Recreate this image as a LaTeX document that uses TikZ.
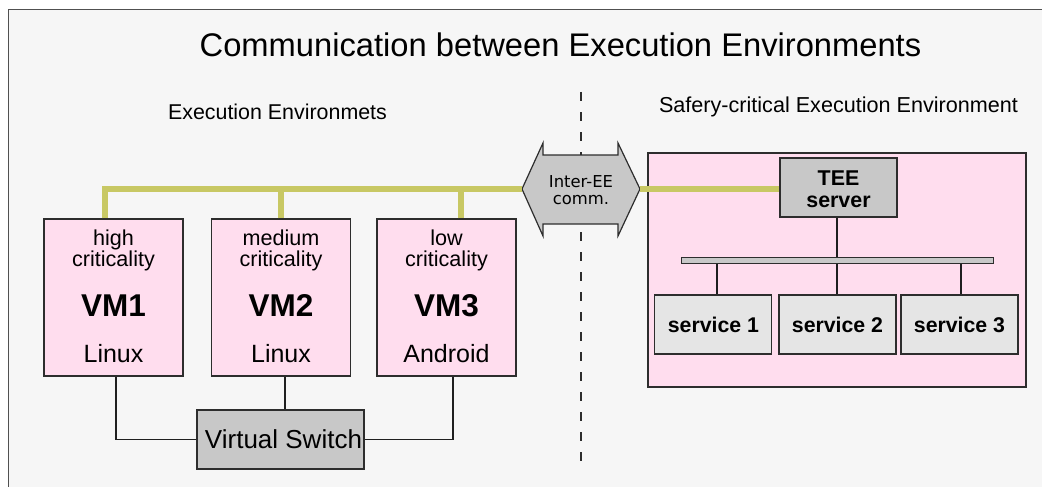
\documentclass[tikz,border=0pt]{standalone}
\usepackage{fontspec}
\setmainfont{Liberation Sans}
\newfontfamily\dejavu{DejaVu Sans}
\definecolor{bggray}{RGB}{246,246,246}
\definecolor{framegray}{RGB}{80,80,80}
\definecolor{pinkfill}{RGB}{255,221,238}
\definecolor{boxgray}{RGB}{200,200,200}
\definecolor{svcgray}{RGB}{229,229,229}
\definecolor{busolive}{RGB}{200,200,100}
\definecolor{edge}{RGB}{45,45,45}
\tikzset{
  box/.style={draw=edge, line width=1.2pt, inner sep=0pt},
  vmbox/.style={box, fill=pinkfill, minimum width=139pt, minimum height=157pt},
  graybox/.style={box, fill=boxgray},
  svcbox/.style={box, fill=svcgray, minimum width=117pt, minimum height=59pt},
  lbl/.style={anchor=base, inner sep=0pt},
  bus/.style={draw=busolive, line width=6.5pt},
  wire/.style={draw=black!88, line width=1.4pt},
}
\newcommand{\fsz}[1]{\fontsize{#1}{#1}\selectfont}
\begin{document}
\begin{tikzpicture}[x=1pt,y=-1pt]
\useasboundingbox (0,0) rectangle (1042,487);
\fill[white] (0,0) rectangle (1042,487);
\begin{scope}
  \clip (0,0) rectangle (1042,487);
  \draw[framegray, fill=bggray, line width=1pt] (8,10) rectangle (1060,500);
\end{scope}

% title and region captions
\node[lbl] (title) at (560.5,57) {\fsz{32.7}Communication between Execution Environments};
\node[lbl] (eecap) at (277.5,119) {\fsz{21.4}Execution Environmets};
\node[lbl] (sccap) at (838.5,113) {\fsz{21.6}Safery-critical Execution Environment};

% separator between the two sides
\draw[edge, line width=1.4pt, dash pattern=on 9pt off 11pt] (581,92) -- (581,472);

% virtual machines
\node[vmbox] (vm1) at (113.5,297.5) {};
\node[vmbox] (vm2) at (281,297.5) {};
\node[vmbox] (vm3) at (446.5,297.5) {};
\foreach \v/\a/\b/\os in {vm1/high/VM1/Linux, vm2/medium/VM2/Linux, vm3/low/VM3/Android}{
  \node[lbl] (\v-crit) at ([yshift=-27pt]\v.north) {\fsz{21.6}\a};
  \node[lbl] (\v-crit2) at ([yshift=-48pt]\v.north) {\fsz{21.6}criticality};
  \node[lbl] (\v-name) at ([yshift=-98pt]\v.north) {\fsz{31.5}\bfseries \b};
  \node[lbl] (\v-os) at ([yshift=-144pt]\v.north) {\fsz{25}\os};
}

% virtual switch
\node[graybox, minimum width=167pt, minimum height=59pt] (vswitch) at (280.5,439.5) {};
\node[lbl] (vswitch-text) at (283.5,448) {\fsz{26}Virtual Switch};
\draw[wire] ([xshift=2.5pt]vm1.south) |- (vswitch.west);
\draw[wire] ([xshift=4pt]vm2.south) -- ([xshift=4pt]vm2.south |- vswitch.north);
\draw[wire] ([xshift=6.5pt]vm3.south) |- (vswitch.east);

% inter-EE communication double arrow
\coordinate (ieeL) at (522,189);
\coordinate (ieeR) at (640,189);
\draw[edge, line width=1.2pt, fill=boxgray, line join=miter]
  (ieeL) -- (543,143) -- (543,155) -- (618,155) -- (618,143) -- (ieeR)
  -- (618,236) -- (618,224) -- (543,224) -- (543,236) -- cycle;
\node[lbl] (iee-1) at (581,187) {\dejavu\fsz{16.4}Inter-EE};
\node[lbl] (iee-2) at (581,204) {\dejavu\fsz{16.4}comm.};

% safety-critical environment
\node[box, fill=pinkfill, minimum width=378pt, minimum height=234pt] (sce) at (837,270) {};
\node[graybox, minimum width=117pt, minimum height=59pt] (tee) at (838.5,187.5) {};
\node[lbl] (tee-1) at (838.5,185) {\fsz{21.4}\bfseries TEE};
\node[lbl] (tee-2) at (838.5,207) {\fsz{21.4}\bfseries server};
\node[box, fill=boxgray, minimum width=312pt, minimum height=6.5pt, line width=1pt] (sbus) at (837,260.5) {};
\node[svcbox] (s1) at (713,324.5) {};
\node[svcbox] (s2) at (837.5,324.5) {};
\node[svcbox] (s3) at (959.5,324.5) {};
\node[lbl] (s1-text) at (713.5,332) {\fsz{21.3}\bfseries service 1};
\node[lbl] (s2-text) at (837.5,332) {\fsz{21.3}\bfseries service 2};
\node[lbl] (s3-text) at (959.5,332) {\fsz{21.3}\bfseries service 3};
\draw[wire] ([xshift=-1.5pt]tee.south) -- ([xshift=-1.5pt]tee.south |- sbus.north);
\draw[wire] ([xshift=4pt]s1.north) -- ([xshift=4pt]s1.north |- sbus.south);
\draw[wire] ([xshift=-0.5pt]s2.north) -- ([xshift=-0.5pt]s2.north |- sbus.south);
\draw[wire] ([xshift=1.5pt]s3.north) -- ([xshift=1.5pt]s3.north |- sbus.south);

% communication bus
\draw[bus] ([xshift=-8.5pt]vm1.north) |- (ieeL);
\draw[bus] (vm2.north) -- (vm2.north |- ieeL);
\draw[bus] ([xshift=14.5pt]vm3.north) -- ([xshift=14.5pt]vm3.north |- ieeL);
\draw[bus] (ieeR) -- (ieeR -| tee.west);
\end{tikzpicture}
\end{document}
